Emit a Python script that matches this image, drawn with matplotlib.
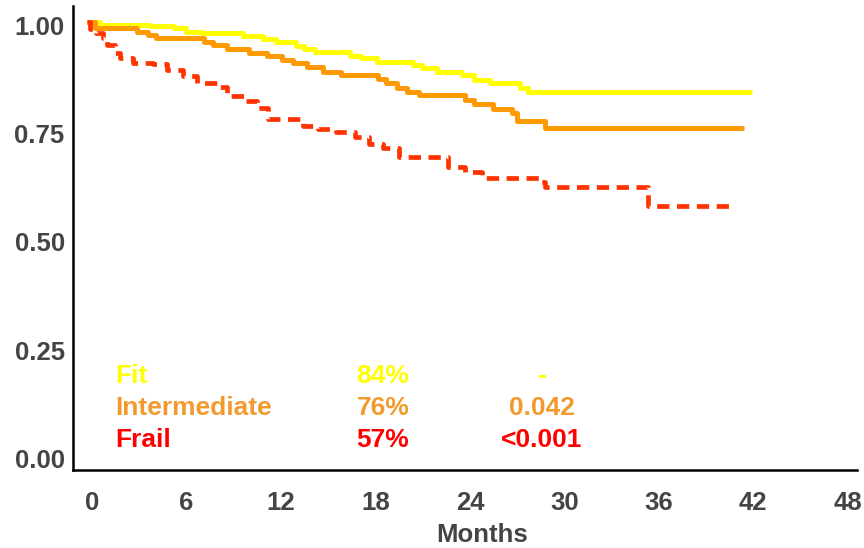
import matplotlib
matplotlib.use("Agg")
import matplotlib.pyplot as plt
from matplotlib.transforms import ScaledTranslation

# ---- data ----
fit_t = [0, 0.8, 4.0, 5.5, 6.3, 7.3, 9.9, 11.2, 12.0, 13.3, 13.8, 14.5, 16.7, 17.4,
         18.4, 20.7, 21.3, 22.2, 23.8, 24.6, 25.6, 27.5, 28.0, 42.2]
fit_s = [1.0, 0.994, 0.992, 0.987, 0.979, 0.975, 0.969, 0.961, 0.955, 0.946, 0.938,
         0.931, 0.923, 0.917, 0.908, 0.902, 0.894, 0.885, 0.879, 0.867, 0.860, 0.849,
         0.839, 0.839]

int_t = [0, 0.5, 3.2, 3.9, 4.4, 7.4, 8.0, 8.9, 10.3, 11.4, 12.4, 13.1, 14.0, 15.0,
         16.1, 18.5, 19.0, 19.7, 20.3, 21.1, 24.0, 24.6, 25.8, 27.0, 27.3, 29.1, 41.7]
int_s = [1.0, 0.987, 0.979, 0.971, 0.963, 0.956, 0.948, 0.938, 0.929, 0.923, 0.913,
         0.906, 0.896, 0.885, 0.879, 0.869, 0.861, 0.848, 0.840, 0.833, 0.821, 0.812,
         0.800, 0.790, 0.773, 0.757, 0.757]

frail_t = [0, 0.2, 0.6, 1.0, 1.3, 1.8, 2.1, 2.9, 4.2, 5.1, 6.1, 7.0, 8.3, 8.9, 10.0,
           10.8, 11.5, 13.7, 14.7, 15.8, 17.0, 17.9, 18.8, 19.8, 22.9, 24.0, 25.1,
           28.7, 29.1, 35.6, 41.1]
frail_s = [1.0, 0.985, 0.975, 0.965, 0.948, 0.930, 0.917, 0.907, 0.903, 0.890, 0.876,
           0.861, 0.852, 0.830, 0.819, 0.803, 0.777, 0.761, 0.754, 0.748, 0.736, 0.719,
           0.709, 0.690, 0.667, 0.654, 0.640, 0.632, 0.621, 0.575, 0.575]

groups = ["Fit", "Intermediate", "Frail"]
survival_pct = ["84%", "76%", "57%"]
p_values = ["-", "0.042", "<0.001"]
xticks = [0, 6, 12, 18, 24, 30, 36, 42, 48]
yticks = [0.00, 0.25, 0.50, 0.75, 1.00]

line_colors = ["#FFFF00", "#FF9900", "#FF3300"]
text_colors = ["#FFFF00", "#F39A2E", "#FF0000"]

plt.rcParams['font.family'] = ['Liberation Sans', 'DejaVu Sans']

fig = plt.figure(figsize=(8.64, 5.48), dpi=100)
ax = fig.add_axes([73/864, 78/548, 784/864, 464/548])

ax.step(fit_t, fit_s, where='post', color=line_colors[0], lw=3.6, solid_capstyle='butt')
ax.step(int_t, int_s, where='post', color=line_colors[1], lw=3.6, solid_capstyle='butt')
ax.step(frail_t, frail_s, where='post', color=line_colors[2], lw=3.4,
        dashes=(2.6, 1.6), dash_capstyle='butt')

ax.set_xlim(-0.89, 48.9)
ax.set_ylim(-0.0335, 1.038)

ax.set_xticks(xticks)
ax.set_xticklabels([str(v) for v in xticks])
ax.set_yticks(yticks)
ax.set_yticklabels([f"{v:.2f}" for v in yticks])

for side in ['top', 'right']:
    ax.spines[side].set_visible(False)
for side in ['left', 'bottom']:
    ax.spines[side].set_linewidth(1.8)
    ax.spines[side].set_color('black')

ax.tick_params(axis='both', which='major', length=2, width=1, color='white',
               direction='in', labelsize=18.5, labelcolor='#444444')
ax.tick_params(axis='x', pad=15)
ax.tick_params(axis='y', pad=6)
for lab in ax.get_xticklabels():
    lab.set_fontweight('bold')
    lab.set_transform(lab.get_transform() + ScaledTranslation(5/100, 0, fig.dpi_scale_trans))
for lab in ax.get_yticklabels():
    lab.set_fontweight('bold')
    lab.set_transform(lab.get_transform() + ScaledTranslation(0, -3/100, fig.dpi_scale_trans))

ax.set_xlabel("Months", fontsize=18.5, fontweight='bold', color='#444444')
ax.xaxis.set_label_coords((482-73)/784, -(535-470)/464)
ax.xaxis.label.set_va('center')

# annotation table
rows_y = [0.167, 0.0935, 0.0196]
for g, pct, pv, c, y in zip(groups, survival_pct, p_values, text_colors, rows_y):
    ax.text(1.78, y, g, color=c, fontsize=19, fontweight='bold', ha='left', va='baseline')
    ax.text(18.79, y, pct, color=c, fontsize=19, fontweight='bold', ha='center', va='baseline')
    ax.text(28.89, y, pv, color=c, fontsize=19, fontweight='bold', ha='center', va='baseline')

fig.savefig("out.png", dpi=100)
